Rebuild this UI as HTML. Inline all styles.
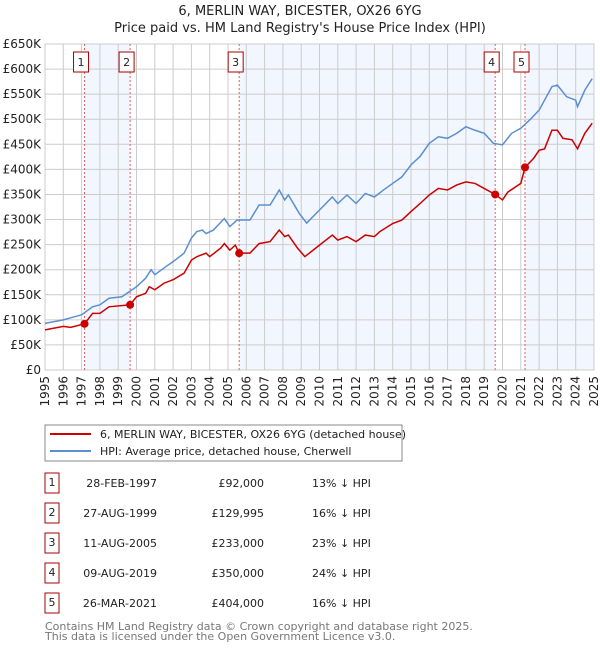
<!DOCTYPE html>
<html><head><meta charset="utf-8"><style>
body{margin:0;background:#fff;font-family:"DejaVu Sans","Liberation Sans",sans-serif;}
svg text{font-family:"DejaVu Sans","Liberation Sans",sans-serif;}
</style></head><body>
<svg id="c" width="600" height="650" xmlns="http://www.w3.org/2000/svg">
<text x="300" y="15" text-anchor="middle" font-size="13" fill="#222">6, MERLIN WAY, BICESTER, OX26 6YG</text>
<text x="300" y="32" text-anchor="middle" font-size="13" fill="#222">Price paid vs. HM Land Registry's House Price Index (HPI)</text>
<g id="plot"></g>
<rect x="45" y="425" width="357" height="36" fill="#fff" stroke="#888"/>
<line x1="50" y1="434" x2="91" y2="434" stroke="#cc0000" stroke-width="2"/>
<text x="100" y="438" font-size="11" fill="#222">6, MERLIN WAY, BICESTER, OX26 6YG (detached house)</text>
<line x1="50" y1="451" x2="91" y2="451" stroke="#5b8fd0" stroke-width="2"/>
<text x="100" y="455" font-size="11" fill="#222">HPI: Average price, detached house, Cherwell</text>
<g id="tbl"></g>
<text x="45" y="630" font-size="11" fill="#777">Contains HM Land Registry data © Crown copyright and database right 2025.</text>
<text x="45" y="640" font-size="11" fill="#777">This data is licensed under the Open Government Licence v3.0.</text>
</svg>
<script>
const hpiYears=[1995,1996,1996.7,1997,1997.6,1998,1998.5,1999.2,2000,2000.5,2000.8,2001,2001.6,2002,2002.6,2003,2003.3,2003.6,2003.8,2004.2,2004.8,2005.1,2005.5,2006.2,2006.7,2007.3,2007.8,2008.1,2008.3,2008.9,2009.3,2010,2010.7,2011,2011.5,2012,2012.5,2013,2013.5,2014,2014.5,2015,2015.5,2016,2016.5,2017,2017.5,2018,2018.5,2019,2019.5,2020,2020.5,2021,2021.5,2022,2022.7,2023,2023.5,2024,2024.1,2024.5,2024.9];
const hpiValues=[93,100,107,110,126,130,143,146,166,183,200,190,206,216,233,263,276,279,272,279,302,286,299,299,329,329,359,339,349,312,293,319,345,332,349,332,352,345,359,372,385,409,426,452,465,462,472,485,478,472,452,449,472,482,499,518,565,568,545,538,525,558,581];
const propYears=[1995,1996,1996.4,1997.16,1997.6,1998,1998.5,1999.65,2000,2000.5,2000.7,2001,2001.5,2002,2002.6,2003,2003.3,2003.8,2004,2004.6,2004.8,2005.1,2005.4,2005.61,2006.2,2006.7,2007.3,2007.8,2008.1,2008.3,2008.8,2009.2,2010,2010.7,2011,2011.5,2012,2012.5,2013,2013.3,2014,2014.5,2015,2015.5,2016,2016.5,2017,2017.5,2018,2018.5,2019,2019.6,2020,2020.3,2021,2021.23,2021.7,2022,2022.3,2022.7,2023,2023.3,2023.8,2024.1,2024.5,2024.9];
const propValues=[80,87,85,92,113,113,126,130,146,153,166,160,173,180,193,219,226,233,226,243,252,239,249,233,233,252,256,279,266,269,243,226,249,269,259,266,256,269,266,276,292,299,316,332,349,362,359,369,375,372,362,350,339,355,372,404,422,438,441,478,478,462,459,441,472,492];
const saleLabels=["1","2","3","4","5"];
const saleYears=[1997.16,1999.65,2005.61,2019.6,2021.23];
const saleValues=[92,129.995,233,350,404];
const saleDates=["28-FEB-1997","27-AUG-1999","11-AUG-2005","09-AUG-2019","26-MAR-2021"];
const salePrices=["£92,000","£129,995","£233,000","£350,000","£404,000"];
const saleHpi=["13% ↓ HPI","16% ↓ HPI","23% ↓ HPI","24% ↓ HPI","16% ↓ HPI"];
const yTicks=[0,50,100,150,200,250,300,350,400,450,500,550,600,650];
const yTickLabels=["£0","£50K","£100K","£150K","£200K","£250K","£300K","£350K","£400K","£450K","£500K","£550K","£600K","£650K"];
const xTicks=[1995,1996,1997,1998,1999,2000,2001,2002,2003,2004,2005,2006,2007,2008,2009,2010,2011,2012,2013,2014,2015,2016,2017,2018,2019,2020,2021,2022,2023,2024,2025];

const X0=45,X1=594,Y0=370,Y1=44;
const xs=y=>X0+(y-1995)/30*(X1-X0);
const ys=v=>Y0-v/650*(Y0-Y1);
const NS="http://www.w3.org/2000/svg";
const plot=document.getElementById('plot');
function mk(tag,attrs,parent){const e=document.createElementNS(NS,tag);for(const k in attrs)e.setAttribute(k,attrs[k]);(parent||plot).appendChild(e);return e;}

let e=mk('rect',{x:X0,y:Y1,width:X1-X0,height:Y0-Y1,fill:'#fff'});


const bandStarts=[saleYears[0],saleYears[2],saleYears[4]];
const bandEnds=[saleYears[1],saleYears[3],2025];
for(let i=0;i<bandStarts.length;i++){
  e=mk('rect',{x:xs(bandStarts[i]),y:Y1,width:xs(bandEnds[i])-xs(bandStarts[i]),height:Y0-Y1,fill:'#f2f6fe'});
  
  
}
yTicks.forEach((t,i)=>{
  e=mk('line',{x1:X0,x2:X1,y1:ys(t),y2:ys(t),stroke:'#ccc','stroke-width':1});
  
  
  e=mk('text',{x:X0-4,y:ys(t)+4,'text-anchor':'end','font-size':12,fill:'#222','font-family':'Liberation Sans, sans-serif'});
  e.textContent=yTickLabels[i];
  
  
});
xTicks.forEach(t=>{
  e=mk('line',{x1:xs(t),x2:xs(t),y1:Y1,y2:Y0,stroke:'#ccc','stroke-width':1});
  
  
  e=mk('text',{x:0,y:0,'font-size':12,fill:'#222','text-anchor':'end','font-family':'Liberation Sans, sans-serif',transform:`translate(${xs(t)+4},${Y0+6}) rotate(-90)`});
  e.textContent=t;
  
  
});
e=mk('rect',{x:X0,y:Y1,width:X1-X0,height:Y0-Y1,fill:'none',stroke:'#ccc'});


saleYears.forEach((y,i)=>{
  e=mk('line',{x1:xs(y),x2:xs(y),y1:Y1,y2:Y0,stroke:'#e06060','stroke-dasharray':'2,2','stroke-width':1});
  
  
  e=mk('rect',{x:xs(y)-11,y:52,width:15,height:20,fill:'#fff',stroke:'#aa0000'});
  
  
  e=mk('text',{x:xs(y)-3.5,y:66,'text-anchor':'middle','font-size':11,fill:'#222'});
  e.textContent=saleLabels[i];
  
  
});
e=mk('polyline',{points:hpiYears.map((y,i)=>xs(y)+','+ys(hpiValues[i])).join(' '),fill:'none',stroke:'#5b8fd0','stroke-width':1.5});


e=mk('polyline',{points:propYears.map((y,i)=>xs(y)+','+ys(propValues[i])).join(' '),fill:'none',stroke:'#cc0000','stroke-width':1.5});


saleYears.forEach((y,i)=>{
  e=mk('circle',{cx:xs(y),cy:ys(saleValues[i]),r:4,fill:'#cc0000'});
  
  
});
const tbl=document.getElementById('tbl');
saleLabels.forEach((l,i)=>{
  const cy=483+30*i;
  e=mk('rect',{x:45,y:cy-10,width:14,height:20,fill:'#fff',stroke:'#aa0000'},tbl);
  
  
  e=mk('text',{x:52,y:cy+3,'text-anchor':'middle','font-size':11,fill:'#222'},tbl);
  e.textContent=l;
  
  
  e=mk('text',{x:157,y:cy+4,'text-anchor':'end','font-size':11,fill:'#222'},tbl);
  e.textContent=saleDates[i];
  
  
  e=mk('text',{x:264,y:cy+4,'text-anchor':'end','font-size':11,fill:'#222'},tbl);
  e.textContent=salePrices[i];
  
  
  e=mk('text',{x:312,y:cy+4,'font-size':11,fill:'#222'},tbl);
  e.textContent=saleHpi[i];
  
  
});
</script>
</body></html>
